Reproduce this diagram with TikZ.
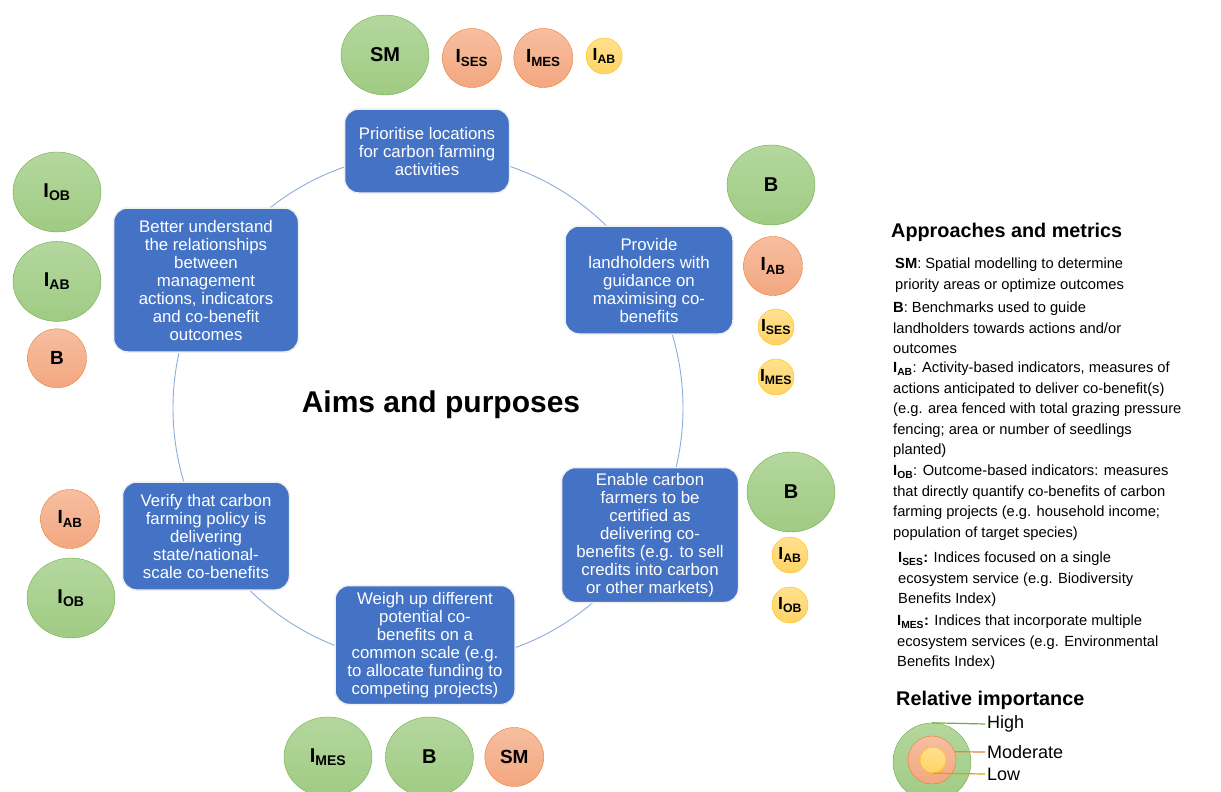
\documentclass[tikz,border=0pt]{standalone}
\usepackage{fontspec}
\setmainfont{Liberation Sans}
\usetikzlibrary{positioning,shapes.geometric}
\definecolor{aimblue}{HTML}{4472C4}
\definecolor{ringblue}{HTML}{8FAADC}
\definecolor{hitop}{HTML}{B4D79E}
\definecolor{hibot}{HTML}{9FCB83}
\definecolor{hiline}{HTML}{70AD47}
\definecolor{modtop}{HTML}{F6BEA0}
\definecolor{modbot}{HTML}{F3A780}
\definecolor{modline}{HTML}{ED7D31}
\definecolor{lotop}{HTML}{FFE08F}
\definecolor{lobot}{HTML}{FFD466}
\definecolor{loline}{HTML}{FFC000}
\newcommand{\ind}[1]{\textbf{I\textsubscript{#1}}}

\begin{document}
\begin{tikzpicture}[x=1pt,y=-1pt,
  aim/.style={draw=white!88!gray,line width=1.5pt,fill=aimblue,rounded corners=14pt,
    text=white,align=center,font=\fontsize{16.8}{18}\selectfont,inner sep=2pt},
  hi/.style={ellipse,draw=hiline,top color=hitop,bottom color=hibot,
    minimum width=88pt,minimum height=80pt,inner sep=0pt,font=\fontsize{20}{22}\selectfont\bfseries},
  mod/.style={circle,draw=modline,top color=modtop,bottom color=modbot,
    minimum size=59pt,inner sep=0pt,font=\fontsize{19}{21}\selectfont\bfseries},
  lo/.style={circle,draw=loline,top color=lotop,bottom color=lobot,
    minimum size=36pt,inner sep=0pt,font=\fontsize{17.5}{19}\selectfont\bfseries},
  key/.style={anchor=north west,align=left,inner sep=0pt,font=\fontsize{14.7}{20.5}\selectfont},
  head/.style={anchor=west,inner sep=0pt,font=\fontsize{19.8}{22}\selectfont\bfseries},
  lvl/.style={anchor=west,inner sep=2pt,font=\fontsize{18}{20}\selectfont}]
  \useasboundingbox (0,0) rectangle (1221,792);
  % the ring of aims
  \coordinate (hub) at (428,408);
  \draw[ringblue,line width=0.9pt] (hub) circle[radius=255pt];
  \node[font=\fontsize{30}{32}\selectfont\bfseries] (aims) at (441,405) {Aims and purposes};
  \node[aim,minimum width=165pt,minimum height=84pt] (prior) at (427,151)
    {Prioritise locations\\for carbon farming\\activities};
  \node[aim,minimum width=168pt,minimum height=108pt] (guide) at (649,280)
    {Provide\\landholders with\\guidance on\\maximising co-\\benefits};
  \node[aim,minimum width=177pt,minimum height=135pt] (certify) at (650,535)
    {Enable carbon\\farmers to be\\certified as\\delivering co-\\benefits (e.g. to sell\\credits into carbon\\or other markets)};
  \node[aim,minimum width=180pt,minimum height=119pt] (weigh) at (425,645)
    {Weigh up different\\potential co-\\benefits on a\\common scale (e.g.\\to allocate funding to\\competing projects)};
  \node[aim,minimum width=167pt,minimum height=108pt] (verify) at (206,536)
    {Verify that carbon\\farming policy is\\delivering\\state/national-\\scale co-benefits};
  \node[aim,minimum width=185pt,minimum height=144pt] (underst) at (206,280)
    {Better understand\\the relationships\\between\\management\\actions, indicators\\and co-benefit\\outcomes};
  % metrics per aim
  \node[hi] (prior-sm) at (385,55) {SM};
  \node[mod,right=13pt of prior-sm,yshift=-3pt] (prior-ses) {\ind{SES}};
  \node[mod,right=12pt of prior-ses] (prior-mes) {\ind{MES}};
  \node[lo,right=13pt of prior-mes,yshift=2pt] (prior-ab) {\ind{AB}};
  \node[hi] (guide-b) at (771,185) {B};
  \node[mod] (guide-ab) at (773,266) {\ind{AB}};
  \node[lo] (guide-ses) at (776,327) {\ind{SES}};
  \node[lo] (guide-mes) at (776,377) {\ind{MES}};
  \node[hi] (cert-b) at (791,492) {B};
  \node[lo] (cert-ab) at (790,555) {\ind{AB}};
  \node[lo] (cert-ob) at (790,605) {\ind{OB}};
  \node[hi] (weigh-mes) at (328,757) {\ind{MES}};
  \node[hi,right=13pt of weigh-mes] (weigh-b) {B};
  \node[mod,right=11pt of weigh-b] (weigh-sm) {SM};
  \node[mod] (verify-ab) at (70,519) {\ind{AB}};
  \node[hi] (verify-ob) at (71,598) {\ind{OB}};
  \node[hi] (underst-ob) at (57,192) {\ind{OB}};
  \node[hi,below=9pt of underst-ob] (underst-ab) {\ind{AB}};
  \node[mod,below=7pt of underst-ab] (underst-b) {B};
  % legend
  \node[head] (head-app) at (891,232) {Approaches and metrics};
  \node[key] (key-sm) at (895,258)
    {\textbf{SM}: Spatial modelling to determine\\priority areas or optimize outcomes};
  \node[key] (key-b) at (893,302)
    {\textbf{B}: Benchmarks used to guide\\landholders towards actions and/or\\outcomes};
  \node[key] (key-ab) at (893,362)
    {\ind{AB}: Activity-based indicators, measures of\\actions anticipated to deliver co-benefit(s)\\(e.g. area fenced with total grazing pressure\\fencing; area or number of seedlings\\planted)};
  \node[key] (key-ob) at (893,465)
    {\ind{OB}: Outcome-based indicators: measures\\that directly quantify co-benefits of carbon\\farming projects (e.g. household income;\\population of target species)};
  \node[key] (key-ses) at (898,552)
    {\ind{SES}\textbf{:} Indices focused on a single\\ecosystem service (e.g. Biodiversity\\Benefits Index)};
  \node[key] (key-mes) at (897,615)
    {\ind{MES}\textbf{:} Indices that incorporate multiple\\ecosystem services (e.g. Environmental\\Benefits Index)};
  \node[head] (head-rel) at (896,700) {Relative importance};
  \node[hi,circle,minimum size=78pt] (key-hi) at (932,762) {};
  \node[mod,minimum size=48pt] (key-mod) at (932,760) {};
  \node[lo,minimum size=26pt] (key-lo) at (933,760) {};
  \node[lvl] (lbl-hi) at (985,724) {High};
  \node[lvl] (lbl-mod) at (985,752) {Moderate};
  \node[lvl] (lbl-lo) at (985,774) {Low};
  \draw[hiline,line width=1.2pt] (key-hi.north) -- (lbl-hi.west);
  \draw[modline,line width=1.2pt] (key-mod.20) -- (lbl-mod.west);
  \draw[loline!85!black,line width=1.2pt] (key-lo.south) -- (lbl-lo.west);
\end{tikzpicture}
\end{document}
